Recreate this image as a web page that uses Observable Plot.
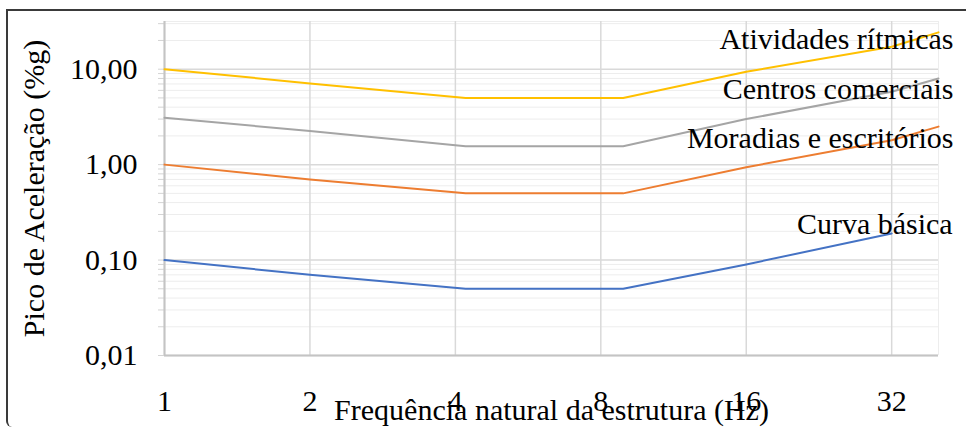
<!DOCTYPE html>
<html><head><meta charset="utf-8">
<script src="https://cdn.jsdelivr.net/npm/d3@7"></script>
<script src="https://cdn.jsdelivr.net/npm/@observablehq/plot@0.6"></script>
<style>
body{margin:0;background:#fff;}
#wrap{position:relative;width:966px;height:430px;overflow:hidden;}
#frame{position:absolute;left:6px;top:9px;width:975px;height:416px;border-top:2px solid #3a3a3a;border-left:2px solid #3a3a3a;border-bottom-left-radius:6px;}
#chart{position:absolute;left:0;top:0;}
#chart svg text{font-family:'Liberation Serif','Times New Roman',serif;}
</style></head><body><div id="wrap"><div id="frame"></div><div id="chart"></div></div>
<script>
// Frequências (Hz) and peak acceleration (%g)
const freq     = [1, 2, 4.2, 8.9, 16, 32, 40];
const basica   = [0.10, 0.070, 0.050, 0.050, 0.090, 0.19, null];
const moradias = [1.0, 0.70, 0.50, 0.50, 0.94, 1.8, 2.5];
const centros  = [3.1, 2.25, 1.56, 1.56, 3.0, 5.8, 8.0];
const ritmicas = [10, 7.1, 5.0, 5.0, 9.4, 17.2, 24.3];

const seriesNames  = ["Curva básica", "Moradias e escritórios", "Centros comerciais", "Atividades rítmicas"];
const seriesValues = [basica, moradias, centros, ritmicas];
const seriesColors = ["#4472C4", "#ED7D31", "#A5A5A5", "#FFC000"];

const xTicks      = [1, 2, 4, 8, 16, 32];
const xTickLabels = ["1", "2", "4", "8", "16", "32"];
const yTicks      = [0.01, 0.1, 1, 10];
const yTickLabels = ["0,01", "0,10", "1,00", "10,00"];
const yMinor = [0.02,0.03,0.04,0.05,0.06,0.07,0.08,0.09,
                0.2,0.3,0.4,0.5,0.6,0.7,0.8,0.9,
                2,3,4,5,6,7,8,9,
                20,30];

const xTitle = "Frequência natural da estrutura (Hz)";
const yTitle = "Pico de Aceleração (%g)";

const rows = seriesNames.flatMap((name, s) =>
  freq.map((f, i) => ({f, v: seriesValues[s][i], name})).filter(d => d.v != null));

const font = "'Liberation Serif', 'Times New Roman', serif";
const FS = 30;
const labelFor = (name, dx, dy) => Plot.text(rows.filter(d => d.name === name),
  Plot.selectLast({x: "f", y: "v", text: "name", textAnchor: "end", dx, dy, fontSize: FS, fontFamily: font, fill: "#000"}));

const chart = Plot.plot({
  width: 966, height: 430,
  marginLeft: 164, marginRight: 28, marginTop: 21, marginBottom: 75,
  style: {fontFamily: font, fontSize: FS + "px", color: "#000", background: "transparent"},
  x: {type: "log", base: 2, domain: [1, 40], axis: null},
  y: {type: "log", domain: [0.01, 31.6], axis: null},
  color: {domain: seriesNames, range: seriesColors},
  marks: [
    Plot.ruleY(yMinor, {stroke: "#ededed", strokeWidth: 1}),
    Plot.ruleY([31.6], {stroke: "#ededed", strokeWidth: 1}),
    Plot.ruleX([40], {stroke: "#ededed", strokeWidth: 1}),
    Plot.ruleY(yTicks, {stroke: "#d9d9d9", strokeWidth: 1.5}),
    Plot.ruleX(xTicks, {stroke: "#d9d9d9", strokeWidth: 1.5}),
    Plot.axisY(yMinor.concat(yTicks), {tickSize: 6, tickFormat: () => "", stroke: "#d4d4d4", label: null}),
    Plot.axisY(yTicks, {tickSize: 0, tickPadding: 27, tickFormat: d => yTickLabels[yTicks.indexOf(d)], fontSize: FS, fontFamily: font, label: null}),
    Plot.axisX(xTicks, {tickSize: 0, tickPadding: 34, tickFormat: d => xTickLabels[xTicks.indexOf(d)], fontSize: FS, fontFamily: font, label: null}),
    Plot.ruleX([1], {stroke: "#c4c4c4", strokeWidth: 2}),
    Plot.ruleY([0.01], {stroke: "#c4c4c4", strokeWidth: 2}),
    Plot.line(rows, {x: "f", y: "v", z: "name", stroke: "name", strokeWidth: 2}),
    labelFor("Atividades rítmicas", 15, 7),
    labelFor("Centros comerciais", 15, 11),
    labelFor("Moradias e escritórios", 15, 11.5),
    labelFor("Curva básica", 61, -9),
    Plot.text([yTitle], {frameAnchor: "left", rotate: -90, dx: -130, textAnchor: "middle", lineAnchor: "middle", fontSize: FS, fontFamily: font, fill: "#000"}),
    Plot.text([xTitle], {frameAnchor: "bottom", dy: 55, textAnchor: "middle", lineAnchor: "middle", fontSize: FS, fontFamily: font, fill: "#000"})
  ]
});
document.getElementById("chart").append(chart);
</script>
</body></html>
